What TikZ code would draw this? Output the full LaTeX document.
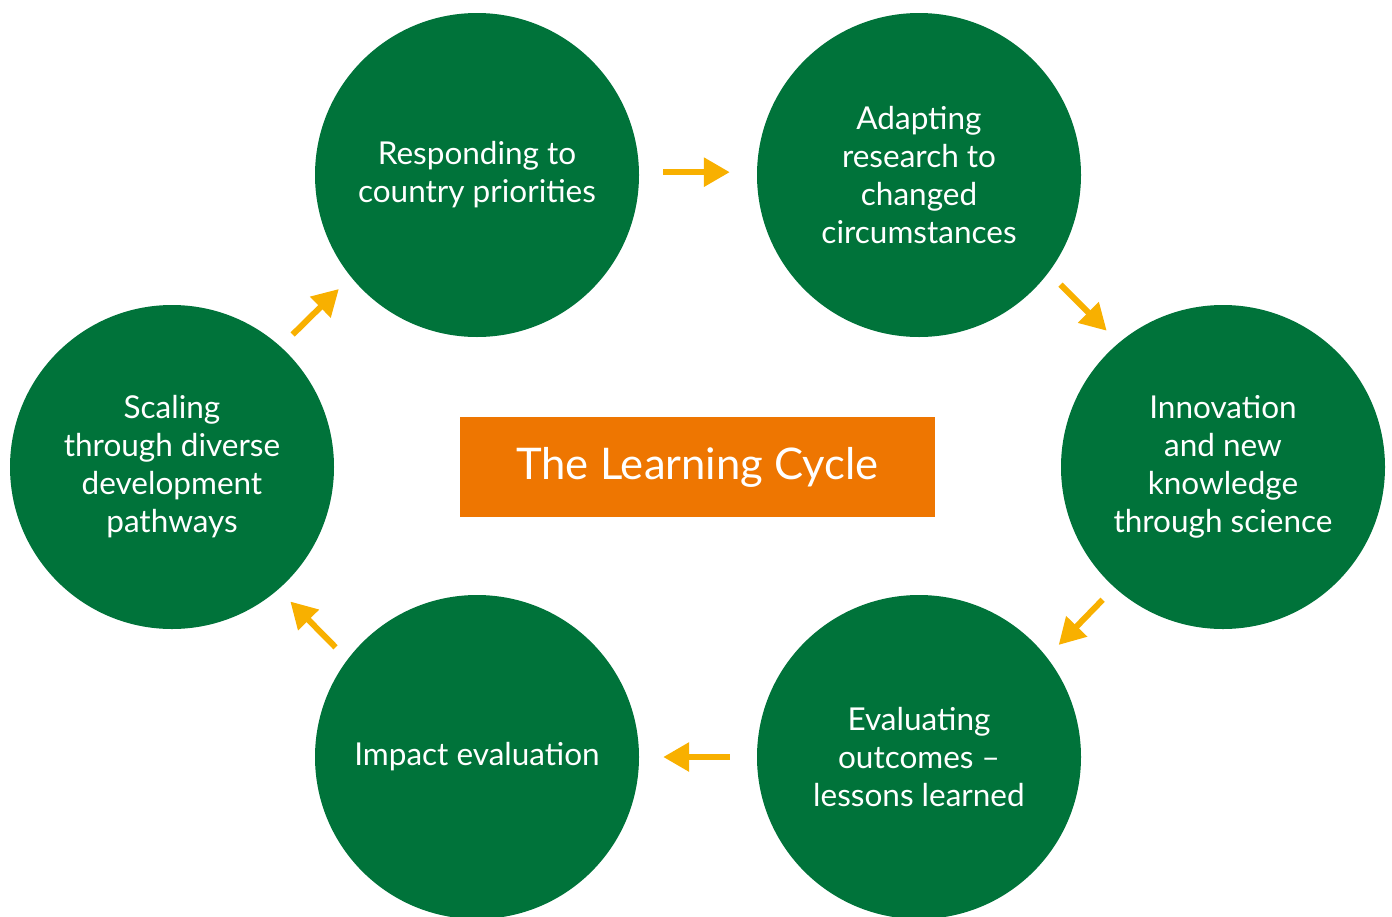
\documentclass[tikz,border=0pt]{standalone}
\usepackage{fontspec}
\setmainfont{Lato}
\usepackage{xcolor}
\usepackage{tikz}
\usetikzlibrary{arrows.meta}
\definecolor{cyclegreen}{HTML}{00733A}
\definecolor{cycleorange}{HTML}{EE7601}
\definecolor{cycleyellow}{HTML}{F8B000}

\begin{document}
\begin{tikzpicture}[x=1pt,y=-1pt,
    stage/.style={circle,fill=cyclegreen,minimum size=324pt,inner sep=0pt,text=white,align=center,font=\fontsize{31.5}{38}\selectfont},
    flow/.style={draw=cycleyellow,line width=6pt,-{Triangle[length=26pt,width=28pt]},shorten <=17pt,shorten >=17pt}]
    \useasboundingbox (0,0) rectangle (1392,916);
    \node[stage] (respond) at (477,175) {Responding to\\country priorities};
    \node[stage] (adapt) at (919,175) {Adapting\\research to\\changed\\circumstances};
    \node[stage] (innov) at (1223,467) {Innovation\\and new\\knowledge\\through science};
    \node[stage] (evalout) at (919,757) {Evaluating\\outcomes --\\lessons learned};
    \node[stage] (impact) at (477,757) {Impact evaluation};
    \node[stage] (scaling) at (172,467) {Scaling\\through diverse\\development\\pathways};
    \node[fill=cycleorange,minimum width=475pt,minimum height=100pt,text=white,font=\fontsize{43.6}{50}\selectfont] (title) at (697.5,467) {The Learning Cycle};
    % arrows round the cycle
    \draw[flow,shorten <=24pt,shorten >=27pt] (respond.1) -- (adapt.179);
    \draw[flow] (adapt.-37) -- (innov.130);
    \draw[flow] (innov.-132) -- (evalout.38);
    \draw[flow,shorten <=27pt,shorten >=24pt] (evalout.180) -- (impact.0);
    \draw[flow] (impact.143) -- (scaling.-49);
    \draw[flow] (scaling.48) -- (respond.219);
\end{tikzpicture}
\end{document}
